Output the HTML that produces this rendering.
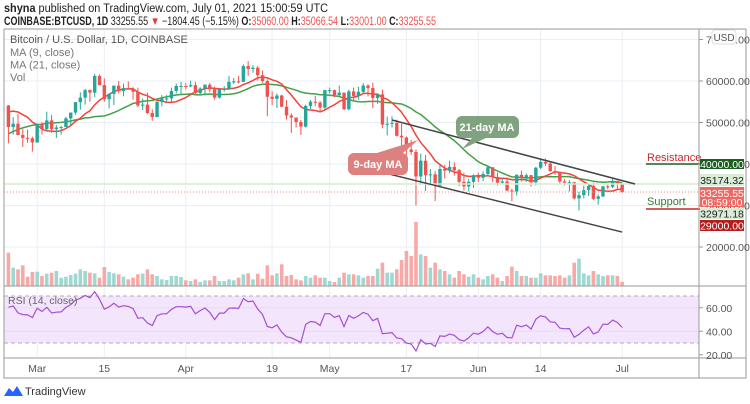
<!DOCTYPE html>
<html><head><meta charset="utf-8"><style>
body{margin:0;background:#fff;}
svg{display:block;font-family:"Liberation Sans",sans-serif;}
</style></head><body>
<svg id="c" width="750" height="404" viewBox="0 0 750 404">
<text x="4" y="12" font-size="11.5" fill="#222" textLength="324" lengthAdjust="spacingAndGlyphs"><tspan font-weight="bold">shyna</tspan> published on TradingView.com, July 01, 2021 15:00:59 UTC</text>
<text x="4" y="25" font-size="11.5" fill="#222" textLength="432" lengthAdjust="spacingAndGlyphs"><tspan font-weight="bold">COINBASE:BTCUSD, 1D</tspan> 33255.55 <tspan fill="#e53935">▼</tspan> −1804.45 (−5.15%) <tspan font-weight="bold">O:</tspan><tspan fill="#ef5350">35060.00</tspan> <tspan font-weight="bold">H:</tspan><tspan fill="#ef5350">35066.54</tspan> <tspan font-weight="bold">L:</tspan><tspan fill="#ef5350">33001.00</tspan> <tspan font-weight="bold">C:</tspan><tspan fill="#ef5350">33255.55</tspan></text>
<g id="grid"></g><g id="vol"></g><g id="rsi"></g><g id="ma"></g><g id="candles"></g><g id="ann"></g><g id="axes"></g>
</svg>
<script>
const priorCloses=[35.5,37.6,36.9,38.3,39.2,38.8,46.4,46.5,44.8,48.0,47.4,47.2,48.6,47.9,49.1,52.1,51.6,55.9,55.9,57.5,54.1];
const closes=[48.9,49.7,47.0,46.3,46.2,45.2,
49.6,48.4,50.5,48.4,48.8,48.9,51.0,52.4,54.9,56.0,57.8,57.2,61.2,59.0,55.6,56.9,58.9,57.6,58.3,58.1,57.4,54.1,54.3,52.3,51.3,55.0,55.8,55.8,57.6,58.8,58.8,
58.7,59.0,57.1,58.2,59.1,58.0,56.0,58.1,58.1,59.8,59.9,59.8,63.6,62.9,63.2,61.4,60.0,56.2,55.7,56.5,53.8,51.7,51.2,50.1,49.0,54.0,55.0,54.8,53.6,57.8,
57.8,56.6,57.2,53.2,57.5,56.4,57.4,58.9,58.3,55.9,56.8,49.5,49.7,49.9,46.8,46.4,43.5,42.9,37.0,40.8,37.3,37.5,34.8,38.8,38.4,39.3,38.5,35.7,34.6,35.7,37.3,
36.7,37.6,39.2,36.9,35.5,35.8,33.6,33.4,37.4,36.7,37.3,35.6,39.1,40.5,40.1,38.3,38.1,35.8,35.5,35.6,31.7,32.5,33.7,34.7,31.6,32.2,34.6,34.5,35.9,35.06,
33.26];
const highs=[54.2,51.3,52.0,48.4,48.3,46.6,
49.8,50.1,52.6,51.8,49.4,49.2,51.4,52.4,54.9,57.3,58.1,58.0,61.7,61.6,60.6,56.9,58.9,60.0,59.4,59.9,58.5,58.4,55.8,57.2,53.2,55.1,56.6,56.6,58.4,59.4,59.8,
59.5,60.1,59.8,58.5,59.2,59.5,58.7,58.2,58.8,61.2,60.7,61.2,64.0,64.8,63.8,63.6,62.5,60.4,57.5,57.0,56.7,55.4,52.2,51.2,50.6,54.3,55.4,56.4,55.2,57.9,
58.4,57.9,58.9,57.1,57.9,58.4,58.6,59.5,59.2,59.6,56.9,57.9,51.4,51.5,50.7,49.7,46.6,45.8,43.5,42.5,42.2,38.8,38.3,39.9,39.8,40.8,40.4,38.8,37.9,36.4,37.5,
37.9,38.2,39.5,39.3,37.9,36.5,36.8,34.1,37.5,38.4,37.7,37.4,39.3,41.0,41.3,40.5,39.5,38.2,36.4,36.1,35.7,33.3,34.8,35.3,35.5,32.7,34.7,35.3,36.6,36.0,
35.07];
const lows=[45.0,47.1,46.9,44.1,45.1,43.0,
45.1,47.1,48.1,47.5,46.3,47.1,48.9,49.3,51.9,53.1,54.3,55.0,56.1,59.0,55.0,53.4,54.2,57.0,56.3,57.9,55.5,53.7,53.0,52.0,50.4,51.3,53.9,55.1,54.9,57.0,56.8,
58.0,58.5,56.9,56.8,56.5,57.3,55.5,55.8,57.4,57.8,59.3,59.4,59.8,61.3,62.0,60.1,59.6,51.5,54.2,53.5,53.7,50.7,47.5,48.8,47.0,48.8,53.3,53.9,52.4,53.1,
57.0,56.1,56.5,53.0,52.9,55.2,55.5,56.9,56.3,53.5,54.5,48.6,46.9,48.8,46.6,43.9,42.2,42.2,30.0,35.0,33.5,35.3,31.1,34.4,36.5,37.8,37.2,34.7,33.6,33.4,34.2,
35.7,35.9,37.2,35.6,34.8,35.3,33.4,31.0,32.4,35.8,35.7,34.6,34.8,38.8,39.5,38.1,37.4,35.2,34.8,33.4,31.4,28.8,31.7,32.3,31.3,30.2,32.0,33.9,34.2,34.0,
33.0];
const volumes=[100,55,50,62,28,42,
43,30,37,40,45,25,28,33,37,50,45,40,38,25,57,42,38,35,28,20,25,35,37,50,35,30,20,18,30,30,27,
17,15,20,12,17,17,30,15,15,20,17,25,35,38,20,37,22,62,32,38,65,30,33,20,17,30,25,32,25,25,
15,12,25,40,35,35,32,25,30,30,52,70,40,40,50,78,105,90,192,95,90,55,70,50,45,35,25,45,35,28,35,
25,20,30,35,25,15,30,58,45,30,30,25,25,38,32,32,30,32,25,32,70,82,38,32,45,35,30,32,32,30,
12];
const dateLabels=["Mar","15","Apr","19","May","17","Jun","14","Jul"];
const dateIdx=[6,20,37,55,67,83,98,111,128];
const priceTicks=[20000,30000,40000,50000,60000,70000];
const rsiTicks=[20,40,60];

const NS="http://www.w3.org/2000/svg";
function mk(tag,attrs,parent,name){const e=document.createElementNS(NS,tag);for(const k in attrs)e.setAttribute(k,attrs[k]);


parent.appendChild(e);return e;}
const X=i=>8.4+i*4.795;
const Y=p=>164-(p-40000)*0.00415;
const YR=v=>296+(70-v)*1.175;
const VB=286, VS=1/3;
const G=id=>document.getElementById(id);

dateIdx.forEach((d,k)=>{mk('line',{x1:X(d),x2:X(d),y1:29,y2:358,stroke:'#e9eff5','stroke-width':1},G('grid'),'v-grid-'+dateLabels[k]);});
priceTicks.forEach(p=>{if(Y(p)>30)mk('line',{x1:4,x2:699,y1:Y(p),y2:Y(p),stroke:'#e9eff5'},G('grid'),'h-grid-'+p);});
mk('rect',{x:4,y:YR(70),width:695,height:YR(30)-YR(70),fill:'#f3e5fc'},G('rsi'),'rsi-band');
[70,30].forEach(v=>mk('line',{x1:4,x2:699,y1:YR(v),y2:YR(v),stroke:'#b9a6c6','stroke-dasharray':'4,3'},G('rsi'),'rsi-level-'+v));
rsiTicks.forEach(v=>{if(v!==20)mk('line',{x1:4,x2:699,y1:YR(v),y2:YR(v),stroke:'#e6dcef'},G('rsi'),'rsi-grid-'+v);});

const all=priorCloses.concat(closes);const off=priorCloses.length;
closes.forEach((c,i)=>{const o=i?closes[i-1]:priorCloses[off-1];const h=volumes[i]*VS;
mk('rect',{x:X(i)-1.8,y:VB-h,width:3.6,height:h,fill:c>=o?'#9fd8d2':'#f7a9a7'},G('vol'),'volume-bar');});
function ma(n){let pts=[];closes.forEach((c,i)=>{const j=i+off;let s=0;for(let k=j-n+1;k<=j;k++)s+=all[k];pts.push(X(i).toFixed(1)+','+Y(s/n*1000).toFixed(1));});return pts.join(' ');}
mk('polyline',{points:ma(21),fill:'none',stroke:'#43a047','stroke-width':1.5},G('ma'),'ma-21-line');
mk('polyline',{points:ma(9),fill:'none',stroke:'#f0433a','stroke-width':1.5},G('ma'),'ma-9-line');
closes.forEach((c,i)=>{const o=i?closes[i-1]:priorCloses[off-1];const up=c>=o;const col=up?'#26a69a':'#ef5350';
mk('line',{x1:X(i),x2:X(i),y1:Y(highs[i]*1000),y2:Y(lows[i]*1000),stroke:col,'stroke-width':1},G('candles'),'candle-wick');
const t=Y(Math.max(o,c)*1000),b=Y(Math.min(o,c)*1000);
mk('rect',{x:X(i)-1.7,y:t,width:3.4,height:Math.max(1,b-t),fill:col},G('candles'),'candle-body');});
let ag=0,al=0,rsi=[];for(let k=1;k<all.length;k++){const d=all[k]-all[k-1];const g=Math.max(d,0),l=Math.max(-d,0);
if(k<=14){ag+=g/14;al+=l/14;}else{ag=(ag*13+g)/14;al=(al*13+l)/14;}
if(k>=off)rsi.push(al===0?100:100-100/(1+ag/al));}
mk('polyline',{points:rsi.map((v,i)=>X(i).toFixed(1)+','+YR(v).toFixed(1)).join(' '),fill:'none',stroke:'#a54fd1','stroke-width':1.2},G('rsi'),'rsi-line');

mk('line',{x1:4,x2:699,y1:Y(35174.32),y2:Y(35174.32),stroke:'#d5ecd0','stroke-width':1.5},G('ann'),'high-price-line');
mk('line',{x1:4,x2:699,y1:Y(33255.55),y2:Y(33255.55),stroke:'#ef8a80','stroke-dasharray':'1,2'},G('ann'),'last-price-line');
mk('line',{x1:X(80),y1:Y(50600),x2:X(130.7),y2:Y(35180),stroke:'#444','stroke-width':1.5},G('ann'),'channel-upper');
mk('line',{x1:X(76.9),y1:Y(38300),x2:X(128),y2:Y(23600),stroke:'#444','stroke-width':1.5},G('ann'),'channel-lower');
mk('path',{d:'M462,116 h51 a6,6 0 0 1 6,6 v10 a6,6 0 0 1 -6,6 h-27 l-24,11 l10,-11 h-10 a6,6 0 0 1 -6,-6 v-10 a6,6 0 0 1 6,-6 z',fill:'#7fa37f'},G('ann'),'ma21-callout');
mk('text',{x:487,y:131,'font-size':11,'font-weight':'bold',fill:'#fff','text-anchor':'middle'},G('ann'),'ma21-callout-label').textContent='21-day MA';
mk('path',{d:'M354,153 h23 l41,-13 l-15,13 h-1 a6,6 0 0 1 6,6 v10 a6,6 0 0 1 -6,6 h-48 a6,6 0 0 1 -6,-6 v-10 a6,6 0 0 1 6,-6 z',fill:'#dc817f'},G('ann'),'ma9-callout');
mk('text',{x:378,y:168,'font-size':11,'font-weight':'bold',fill:'#fff','text-anchor':'middle'},G('ann'),'ma9-callout-label').textContent='9-day MA';
mk('text',{x:647,y:161,'font-size':11,fill:'#c62828'},G('ann'),'resistance-label').textContent='Resistance';
mk('line',{x1:646,x2:700,y1:164,y2:164,stroke:'#1b5e20','stroke-width':1.5},G('ann'),'resistance-line');
mk('text',{x:647,y:205,'font-size':11,fill:'#2e7d32'},G('ann'),'support-label').textContent='Support';
mk('line',{x1:646,x2:700,y1:209,y2:209,stroke:'#c62828','stroke-width':1.5},G('ann'),'support-line');

const A=G('axes');
mk('rect',{x:4,y:29,width:742,height:349,fill:'none',stroke:'#9a9a9a'},A,'chart-frame');
mk('line',{x1:4,x2:746,y1:286,y2:286,stroke:'#9a9a9a'},A,'pane-separator');
mk('line',{x1:4,x2:746,y1:358,y2:358,stroke:'#9a9a9a'},A,'time-axis-line');
mk('line',{x1:699,x2:699,y1:29,y2:378,stroke:'#9a9a9a'},A,'price-axis-line');
priceTicks.forEach(p=>{mk('line',{x1:699,x2:703,y1:Y(p),y2:Y(p),stroke:'#999'},A,'price-tick');
mk('text',{x:706,y:Y(p)+4,'font-size':10.5,fill:'#555'},A,'price-tick-label').textContent=p.toFixed(2);});
rsiTicks.forEach(v=>{mk('line',{x1:699,x2:703,y1:YR(v),y2:YR(v),stroke:'#999'},A,'rsi-tick');
mk('text',{x:706,y:YR(v)+4,'font-size':10.5,fill:'#555'},A,'rsi-tick-label').textContent=v.toFixed(2);});
dateIdx.forEach((d,k)=>{mk('text',{x:X(d),y:372,'font-size':10.5,fill:'#555','text-anchor':'middle'},A,'date-label').textContent=dateLabels[k];});
const ub=mk('rect',{x:712,y:30,width:24,height:14,rx:3,fill:'#fff',stroke:'#ddd'},A,'currency-button');
mk('text',{x:724,y:41,'font-size':10,fill:'#555','text-anchor':'middle'},A,'currency-label').textContent='USD';
function box(y1,y2,bg,fg,txt,name,t2){mk('rect',{x:700,y:y1,width:44,height:y2-y1,fill:bg},A,name);
mk('text',{x:722,y:t2?y1+10:(y1+y2)/2+4,'font-size':10.5,fill:fg,'text-anchor':'middle'},A,name+'-text').textContent=txt;
if(t2)mk('text',{x:722,y:y1+19,'font-size':10.5,fill:fg,'text-anchor':'middle'},A,name+'-timer').textContent=t2;}
box(159,169,'#1b5e20','#fff','40000.00','resistance-price-box');
box(174,186,'#d8ecd6','#222','35174.32','high-price-box');
box(187,207,'#f06764','#fff','33255.55','last-price-box','08:59:00');
box(208,219,'#d8ecd6','#222','32971.18','low-price-box');
box(220,231,'#b71c1c','#fff','29000.00','support-price-box');
const L=[['Bitcoin / U.S. Dollar, 1D, COINBASE',43,'#555'],['MA (9, close)',56,'#777'],['MA (21, close)',68.5,'#777'],['Vol',81,'#777']];
L.forEach((l,k)=>{mk('text',{x:10,y:l[1],'font-size':11,fill:l[2]},A,'legend-'+k).textContent=l[0];});
mk('text',{x:8,y:304,'font-size':10.5,fill:'#666'},A,'rsi-legend').textContent='RSI (14, close)';
mk('path',{d:'M4,396 l5,-8 l4,4 l4,-6 l6,10 z',fill:'#2962ff'},A,'tv-logo-icon');
mk('text',{x:25,y:395,'font-size':11,fill:'#333'},A,'tv-logo-text').textContent='TradingView';
</script>
</body></html>
